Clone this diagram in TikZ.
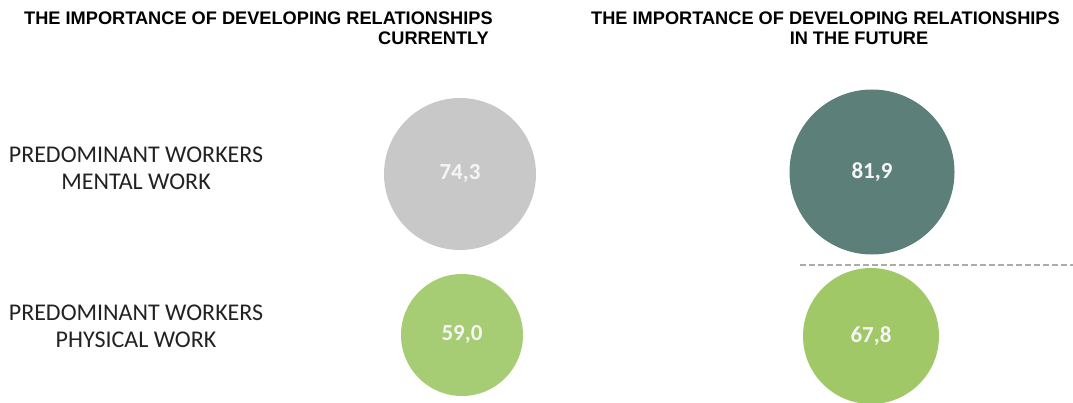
\documentclass[tikz,border=0pt]{standalone}
\usepackage{fontspec}
\setmainfont{Carlito}
\newfontfamily\titlefont{Liberation Sans}
\definecolor{cgrey}{HTML}{C8C8C8}
\definecolor{cteal}{HTML}{5D7F7A}
\definecolor{cgreenA}{HTML}{A6CC74}
\definecolor{cgreenB}{HTML}{A0C867}
\definecolor{cdash}{HTML}{ABABAB}
\definecolor{ctext}{HTML}{222222}
\tikzset{
  titletext/.style={font=\titlefont\bfseries\fontsize{18.2}{21}\selectfont, text=black, inner sep=0pt},
  rowlabel/.style={font=\fontsize{24}{27}\selectfont, text=ctext, inner sep=0pt, anchor=base},
  bubble/.style={circle, inner sep=0pt, draw=none, text=white!96!black,
     font=\bfseries\fontsize{23}{26}\selectfont},
  sep/.style={draw=cdash, line width=1.4pt, dash pattern=on 6pt off 3pt}
}
\begin{document}
\begin{tikzpicture}[x=1pt,y=-1pt]
\useasboundingbox (0,0) rectangle (1073,402);
% titles
\node[titletext, anchor=base west] (t1a) at (24,24.5) {THE IMPORTANCE OF DEVELOPING RELATIONSHIPS};
\node[titletext, anchor=base east] (t1b) at (489,44) {CURRENTLY};
\node[titletext, anchor=base west] (t2a) at (591,24.5) {THE IMPORTANCE OF DEVELOPING RELATIONSHIPS};
\node[titletext, anchor=base] (t2b) at (859,44) {IN THE FUTURE};
% row labels
\node[rowlabel] (r1a) at (136,162.5) {PREDOMINANT WORKERS};
\node[rowlabel] (r1b) at (136,189.5) {MENTAL WORK};
\node[rowlabel] (r2a) at (136,320) {PREDOMINANT WORKERS};
\node[rowlabel] (r2b) at (136,347) {PHYSICAL WORK};
% bubbles
\node[bubble, fill=cgrey, minimum size=152pt] (c1) at (460,174) {74,3};
\node[bubble, fill=cgreenA, minimum size=122pt] (c2) at (462,335) {59,0};
\node[bubble, fill=cteal, minimum size=165pt] (c3) at (872,172) {81,9};
\node[bubble, fill=cgreenB, minimum size=136pt] (c4) at (871,336) {67,8};
% dashed separator
\coordinate (dl) at (800,265);
\coordinate (dr) at (1073,265);
\draw[sep] (dl) -- (dr);
\end{tikzpicture}
\end{document}
